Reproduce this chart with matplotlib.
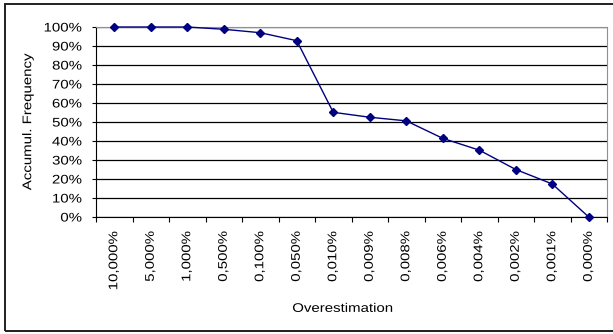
import numpy as np
import matplotlib.pyplot as plt
from matplotlib.patches import Rectangle
from matplotlib.patheffects import AbstractPathEffect
from matplotlib.transforms import Affine2D
from matplotlib.ticker import FixedLocator, PercentFormatter

plt.rcParams["font.family"] = ["Liberation Sans", "DejaVu Sans"]

# Overestimation classes and cumulative frequency (%)
categories = ["10,000%", "5,000%", "1,000%", "0,500%", "0,100%", "0,050%", "0,010%",
              "0,009%", "0,008%", "0,006%", "0,004%", "0,002%", "0,001%", "0,000%"]
accum_freq = [100, 100, 100, 98.8, 97, 92.8, 55.1, 52.5, 50.6, 41.4, 35.2, 25, 17.4, 0]


class Stretch(AbstractPathEffect):
    """Widen glyphs along the text direction, keeping one end fixed."""

    def __init__(self, sx=1.2, anchor="center"):
        super().__init__()
        self.sx = sx
        self.anchor = anchor

    def draw_path(self, renderer, gc, tpath, affine, rgbFace=None):
        v = tpath.vertices
        if len(v):
            lo, hi = v[:, 0].min(), v[:, 0].max()
            x0 = {"left": lo, "right": hi, "center": 0.5 * (lo + hi)}[self.anchor]
        else:
            x0 = 0
        t = Affine2D().translate(-x0, 0).scale(self.sx, 1).translate(x0, 0) + affine
        renderer.draw_path(gc, tpath, t, rgbFace)


FS = 9
SX = 1.2

fig = plt.figure(figsize=(6.13, 3.34), dpi=100)
fig.patch.set_facecolor("white")

# outer chart frame
fig.add_artist(Rectangle((5 / 613, 1 - 331 / 334), 620 / 613, 327 / 334,
                         transform=fig.transFigure, fill=False,
                         edgecolor="#202020", linewidth=1.4))

ax = fig.add_axes([96 / 613, 1 - 217 / 334, 511 / 613, 190 / 334])

x = np.arange(len(categories))
ax.plot(x, accum_freq, color="#000080", linewidth=1.0, marker="D",
        markersize=4.5, markerfacecolor="#000080", markeredgecolor="#000080",
        zorder=3, clip_on=False)

ax.set_xlim(-0.5, len(categories) - 0.5)
ax.set_ylim(0, 100)
ax.set_yticks(np.arange(0, 101, 10))
ax.yaxis.set_major_formatter(PercentFormatter(decimals=0))
ax.yaxis.grid(True, color="black", linewidth=0.9)
ax.set_axisbelow(True)

# labels at category centres, ticks on category boundaries
ax.set_xticks(x)
ax.set_xticklabels(categories, rotation=90, fontsize=FS)
ax.tick_params(axis="x", which="major", length=0, pad=10)
ax.xaxis.set_minor_locator(FixedLocator(np.arange(-0.5, len(categories), 1)))
ax.tick_params(axis="x", which="minor", length=3.5, width=0.8, color="black")
ax.tick_params(axis="y", length=3, width=0.8, labelsize=FS, pad=7)

for side in ("top", "right"):
    ax.spines[side].set_color("#909090")
    ax.spines[side].set_linewidth(0.8)
for side in ("left", "bottom"):
    ax.spines[side].set_color("black")
    ax.spines[side].set_linewidth(0.8)

ax.set_ylabel("Accumul. Frequency", fontsize=FS)
ax.set_xlabel("Overestimation", fontsize=FS)
ax.yaxis.set_label_coords(-0.121, 0.5)
ax.xaxis.set_label_coords(0.483, -0.452)

for lbl in ax.get_yticklabels() + ax.get_xticklabels():
    lbl.set_path_effects([Stretch(SX, "right")])
ax.yaxis.label.set_path_effects([Stretch(SX, "center")])
ax.xaxis.label.set_path_effects([Stretch(SX, "center")])

fig.savefig("out.png", dpi=100)
